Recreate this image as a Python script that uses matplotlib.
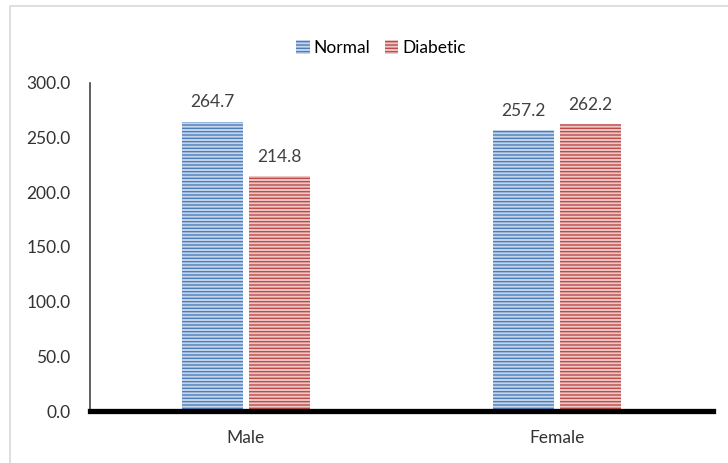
import matplotlib
matplotlib.use("Agg")
import matplotlib.pyplot as plt
from matplotlib.patches import Rectangle, Patch
import numpy as np

categories = ["Male", "Female"]
series_names = ["Normal", "Diabetic"]
normal = [264.7, 257.2]
diabetic = [214.8, 262.2]
y_ticks = [0, 50, 100, 150, 200, 250, 300]

plt.rcParams["font.family"] = ["Lato", "DejaVu Sans"]
plt.rcParams["hatch.linewidth"] = 1.0

W, H = 728, 463
fig = plt.figure(figsize=(W / 100, H / 100), dpi=100)

# outer chart frame
fig.patches.append(Rectangle((10 / W, -0.05), 1.2, 1 - 6 / H + 0.05,
                             transform=fig.transFigure, fill=False,
                             edgecolor="#d9d9d9", linewidth=1.2, zorder=0))

ax = fig.add_axes([90 / W, 1 - 411 / H, (713 - 90) / W, (411 - 83) / H])

x = np.arange(len(categories))
width = 0.196
gap = 0.019
fs = 12.5
styles = [("#4a7ebb", "#c6d5ea"), ("#be4b48", "#ecc7c6")]
for i, (vals, (dark, light)) in enumerate(zip([normal, diabetic], styles)):
    offs = (i - 0.5) * (width + gap)
    bars = ax.bar(x + offs, vals, width, color=light, edgecolor=dark,
                  linewidth=0, hatch="-----", zorder=2)
    for b, v in zip(bars, vals):
        ax.annotate(f"{v:.1f}", (b.get_x() + b.get_width() / 2, v),
                    xytext=(0, 8), textcoords="offset points",
                    ha="center", va="bottom", fontsize=fs, color="#404040")

ax.set_xlim(-0.5, 1.5)
ax.set_ylim(0, 300)
ax.set_yticks(y_ticks)
ax.set_yticklabels([f"{v:.1f}" for v in y_ticks])
ax.set_xticks(x)
ax.set_xticklabels(categories)
ax.tick_params(axis="y", length=0, pad=14, labelsize=fs, labelcolor="#333333")
ax.tick_params(axis="x", length=0, pad=14, labelsize=fs, labelcolor="#333333")

for s in ["top", "right", "bottom"]:
    ax.spines[s].set_visible(False)
ax.spines["left"].set_color("#444444")
ax.spines["left"].set_linewidth(1.2)
ax.axhline(0, color="black", linewidth=3.8, zorder=3, clip_on=False)

handles = [Patch(facecolor=s[1], edgecolor=s[0], linewidth=0, hatch="-----")
           for s in styles]
fig.legend(handles, series_names, loc="center", bbox_to_anchor=(381 / W, 1 - 48 / H),
           ncol=2, frameon=False, fontsize=fs, handlelength=0.8,
           handleheight=0.8, handletextpad=0.25, columnspacing=0.8)

fig.savefig("out.png", dpi=100)
